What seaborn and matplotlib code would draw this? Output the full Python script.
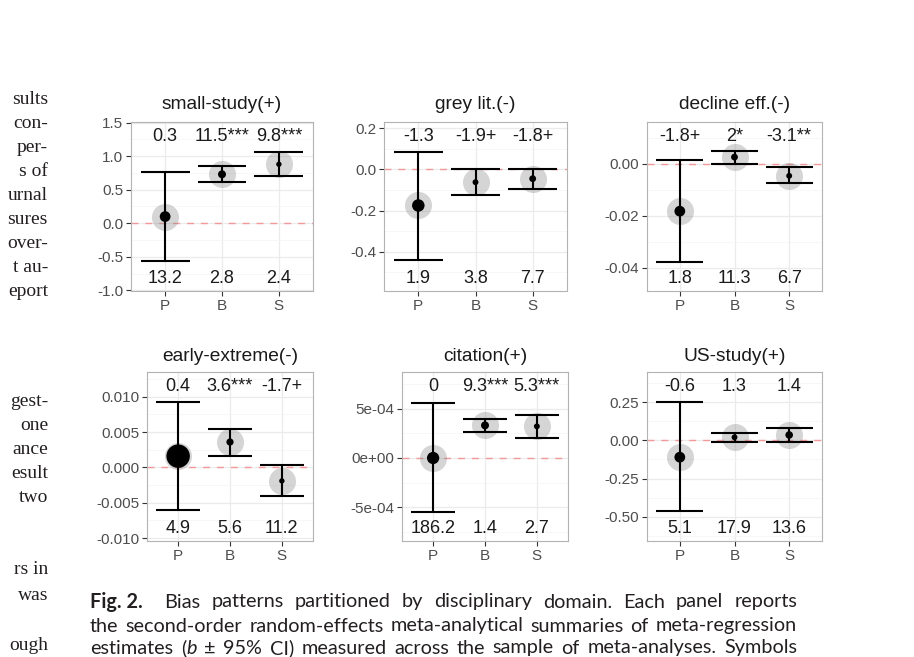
import numpy as np
import pandas as pd
import matplotlib
matplotlib.use("Agg")
import matplotlib.pyplot as plt
import matplotlib.transforms as mtransforms
from matplotlib.ticker import FixedLocator, FuncFormatter, AutoMinorLocator
import seaborn as sns

# ---- data ----
groups = ["P", "B", "S"]

titles = ["small-study(+)", "grey lit.(-)", "decline eff.(-)",
          "early-extreme(-)", "citation(+)", "US-study(+)"]

estimates = [
    [0.10, 0.73, 0.88],
    [-0.175, -0.062, -0.045],
    [-0.0183, 0.0025, -0.0047],
    [0.0016, 0.0036, -0.0019],
    [0.0, 3.3e-4, 3.2e-4],
    [-0.11, 0.02, 0.035],
]
ci_low = [
    [-0.56, 0.61, 0.71],
    [-0.44, -0.125, -0.095],
    [-0.038, 0.0, -0.0075],
    [-0.0060, 0.0016, -0.0041],
    [-5.5e-4, 2.6e-4, 2.0e-4],
    [-0.46, -0.01, -0.01],
]
ci_high = [
    [0.77, 0.86, 1.06],
    [0.085, 0.0, 0.002],
    [0.0015, 0.005, -0.0015],
    [0.0092, 0.0055, 0.0003],
    [5.6e-4, 3.9e-4, 4.3e-4],
    [0.25, 0.05, 0.08],
]
# relative weight of each summary (drives black dot size)
weights = [
    [0.20, 0.11, 0.05],
    [0.27, 0.06, 0.08],
    [0.20, 0.08, 0.06],
    [0.95, 0.09, 0.05],
    [0.26, 0.11, 0.06],
    [0.20, 0.06, 0.10],
]
z_labels = [
    ["0.3", "11.5***", "9.8***"],
    ["-1.3", "-1.9+", "-1.8+"],
    ["-1.8+", "2*", "-3.1**"],
    ["0.4", "3.6***", "-1.7+"],
    ["0", "9.3***", "5.3***"],
    ["-0.6", "1.3", "1.4"],
]
n_labels = [
    ["13.2", "2.8", "2.4"],
    ["1.9", "3.8", "7.7"],
    ["1.8", "11.3", "6.7"],
    ["4.9", "5.6", "11.2"],
    ["186.2", "1.4", "2.7"],
    ["5.1", "17.9", "13.6"],
]
y_ticks = [
    [-1.0, -0.5, 0.0, 0.5, 1.0, 1.5],
    [-0.4, -0.2, 0.0, 0.2],
    [-0.04, -0.02, 0.0],
    [-0.010, -0.005, 0.0, 0.005, 0.010],
    [-5e-4, 0.0, 5e-4],
    [-0.50, -0.25, 0.0, 0.25],
]
y_fmt = ["{:.1f}", "{:.1f}", "{:.2f}", "{:.3f}", "{:.0e}", "{:.2f}"]
y_lims = [(-1.01, 1.51), (-0.59, 0.23), (-0.049, 0.016),
          (-0.0104, 0.0135), (-8.4e-4, 8.7e-4), (-0.657, 0.446)]

# panel boxes in pixels: left, top, right, bottom
panel_px = [(131, 122, 313, 291), (384, 122, 567, 291), (647, 122, 822, 291),
            (147, 372, 313, 541), (402, 372, 568, 541), (647, 372, 822, 541)]

sns.set_theme(style="white")
plt.rcParams["font.family"] = ["Liberation Sans", "DejaVu Sans"]
plt.rcParams["axes.unicode_minus"] = False

W, H = 914, 657
fig = plt.figure(figsize=(W / 100, H / 100), dpi=100)
fig.patch.set_facecolor("white")

pos = np.arange(len(groups))
for i in range(6):
    l, t, r, b = panel_px[i]
    ax = fig.add_axes([l / W, 1 - b / H, (r - l) / W, (b - t) / H])
    df = pd.DataFrame({"pos": pos, "est": estimates[i], "lo": ci_low[i],
                       "hi": ci_high[i], "w": weights[i]})

    ax.axhline(0, color="#f29a9a", lw=1.0, dashes=(5, 5), zorder=1)
    # grey halo behind each estimate
    sns.scatterplot(data=df, x="pos", y="est", s=380, color="#808080",
                    alpha=0.33, linewidth=0, ax=ax, zorder=2, legend=False)
    # 95% CI with caps
    ax.vlines(df["pos"], df["lo"], df["hi"], color="black", lw=1.5, zorder=3)
    ax.hlines(df["lo"], df["pos"] - 0.43, df["pos"] + 0.43, color="black", lw=1.5, zorder=3)
    ax.hlines(df["hi"], df["pos"] - 0.43, df["pos"] + 0.43, color="black", lw=1.5, zorder=3)
    sns.scatterplot(data=df, x="pos", y="est", size="w", sizes=(0, 300),
                    size_norm=(0, 1), color="black", linewidth=0, ax=ax,
                    zorder=4, legend=False)

    trans = mtransforms.blended_transform_factory(ax.transData, ax.transAxes)
    for p, zl, nl in zip(pos, z_labels[i], n_labels[i]):
        ax.text(p, 0.915, zl, transform=trans, ha="center", va="center",
                fontsize=13, color="#1a1a1a")
        ax.text(p, 0.075, nl, transform=trans, ha="center", va="center",
                fontsize=13, color="#1a1a1a")

    ax.set_xlim(-0.6, 2.6)
    ax.set_ylim(*y_lims[i])
    ax.set_xticks(pos, groups)
    ax.yaxis.set_major_locator(FixedLocator(y_ticks[i]))
    fmt = y_fmt[i]
    ax.yaxis.set_major_formatter(FuncFormatter(lambda v, _, f=fmt: f.format(v)))
    ax.yaxis.set_minor_locator(AutoMinorLocator(2))
    ax.set_xlabel("")
    ax.set_ylabel("")
    ax.set_title(titles[i], fontsize=13.8, color="#1a1a1a",
                 pad=9.5 if i < 3 else 8)

    ax.set_axisbelow(True)
    ax.grid(which="major", color="#ebebeb", lw=0.9)
    ax.grid(which="minor", axis="y", color="#f4f4f4", lw=0.5)
    ax.tick_params(which="major", length=3.5, width=0.8, color="#333333",
                   labelsize=11, labelcolor="#4d4d4d", pad=2,
                   bottom=True, left=True)
    ax.tick_params(which="minor", length=0)
    for sp in ax.spines.values():
        sp.set_color("#b3b3b3")
        sp.set_linewidth(0.8)

# ---- surrounding page text ----
left_col = [("sults", 100), ("con-", 124), ("per-", 148), ("s of", 172),
            ("urnal", 196), ("sures", 220), ("over-", 244), ("t au-", 268),
            ("eport", 292), ("gest-", 401), ("one", 425), ("ance", 449),
            ("esult", 473), ("two", 497), ("rs in", 570), ("was", 595),
            ("ough", 645)]
for txt, yy in left_col:
    fig.text(48 / W, 1 - yy / H, txt, ha="right", va="center",
             family="Liberation Serif", fontsize=14, color="#231f20")

renderer = fig.canvas.get_renderer()

cap2_text = "the second-order random-effects meta-analytical summaries of meta-regression"
probe = fig.text(0, 0, cap2_text, family="Lato", fontsize=10)
cap_size = 10 * 700 / probe.get_window_extent(renderer).width
probe.remove()


def justify(words, x0, x1, yy, size):
    # words: list of words, each a list of (text, weight, style) runs
    placed = []
    for runs in words:
        arts = [fig.text(0, 1 - yy / H, txt, ha="left", va="center",
                         family="Lato", fontsize=size, fontweight=wt,
                         fontstyle=st, color="#231f20") for txt, wt, st in runs]
        widths = [a.get_window_extent(renderer).width for a in arts]
        placed.append((arts, widths))
    total = sum(sum(w) for _, w in placed)
    gap = (x1 - x0 - total) / (len(placed) - 1)
    x = x0
    for arts, widths in placed:
        for a, wd in zip(arts, widths):
            a.set_x(x / W)
            x += wd
        x += gap


def plain(s):
    return [[(w, "normal", "normal")] for w in s.split()]


cap1 = [[("Fig. 2.", "bold", "normal")], [("", "normal", "normal")]] + \
    plain("Bias patterns partitioned by disciplinary domain. Each panel reports")
cap2 = plain(cap2_text)
cap3 = plain("estimates") + [[("(", "normal", "normal"), ("b", "normal", "italic")]] + \
    plain("± 95% CI) measured across the sample of meta-analyses. Symbols")
justify(cap1, 90, 797, 602, cap_size)
justify(cap2, 90, 797, 626, cap_size)
justify(cap3, 90, 797, 648, cap_size)

fig.savefig("out.png", dpi=100, facecolor="white")
